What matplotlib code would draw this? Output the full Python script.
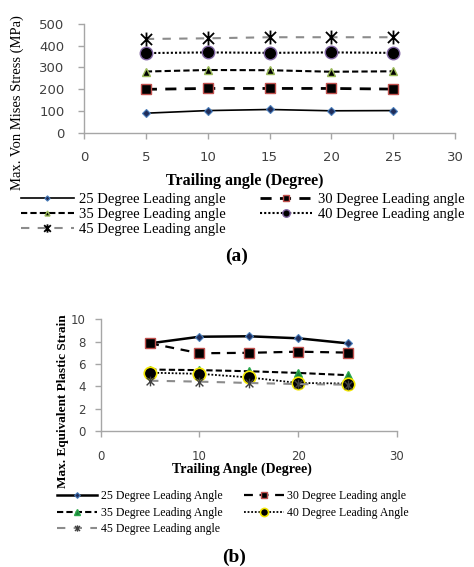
import matplotlib
matplotlib.use("Agg")
import matplotlib.pyplot as plt
from matplotlib.path import Path
import numpy as np

# ---- data ----
trailing = [5, 10, 15, 20, 25]
labels_a = ["25 Degree Leading angle", "30 Degree Leading angle",
            "35 Degree Leading angle", "40 Degree Leading angle",
            "45 Degree Leading angle"]
stress_25 = [89, 101, 106, 100, 101]
stress_30 = [199, 203, 203, 203, 200]
stress_35 = [281, 288, 287, 280, 282]
stress_40 = [366, 369, 367, 369, 367]
stress_45 = [431, 434, 439, 439, 439]

labels_b = ["25 Degree Leading Angle", "30 Degree Leading angle",
            "35 Degree Leading Angle", "40 Degree Leading Angle",
            "45 Degree Leading angle"]
strain_25 = [7.85, 8.44, 8.48, 8.3, 7.85]
strain_30 = [7.85, 6.96, 7.0, 7.1, 7.02]
strain_35 = [5.5, 5.45, 5.35, 5.2, 5.0]
strain_40 = [5.22, 5.12, 4.8, 4.3, 4.25]
strain_45 = [4.5, 4.42, 4.3, 4.2, 4.15]

# asterisk marker (vertical line + X), like the spreadsheet "star"
star = Path([(0, -1), (0, 1), (-0.8, -0.8), (0.8, 0.8), (-0.8, 0.8), (0.8, -0.8)],
            [Path.MOVETO, Path.LINETO, Path.MOVETO, Path.LINETO, Path.MOVETO, Path.LINETO])

W, H = 474, 567
fig = plt.figure(figsize=(W / 100, H / 100), dpi=100)

def ax_rect(l, t, r, b):
    return [l / W, 1 - b / H, (r - l) / W, (b - t) / H]

SPINE = "#a6a6a6"
TICKC = "#404040"

def style(ax, size):
    for s in ["top", "right"]:
        ax.spines[s].set_visible(False)
    for s in ["left", "bottom"]:
        ax.spines[s].set_color(SPINE)
        ax.spines[s].set_linewidth(1.0)
    ax.tick_params(colors=SPINE, labelcolor=TICKC, length=4, width=1.0,
                   direction="out", labelsize=size)
    for lab in ax.get_xticklabels() + ax.get_yticklabels():
        lab.set_family("DejaVu Sans")

# ---------------- (a) ----------------
axa = fig.add_axes(ax_rect(84, 24, 455, 132.5))
la = []
la.append(axa.plot(trailing, stress_25, "-", color="black", lw=1.2, marker="D",
                   ms=4.5, mfc="#1f2d5a", mec="#4a7ebb", mew=0.8)[0])
la.append(axa.plot(trailing, stress_30, color="black", lw=2.0, ls=(0, (4, 3)),
                   marker="s", ms=7, mfc="black", mec="#c0504d", mew=1.0)[0])
la.append(axa.plot(trailing, stress_35, color="black", lw=1.5, ls=(0, (3, 1.5)),
                   marker="^", ms=6, mfc="black", mec="#9bbb59", mew=1.0)[0])
la.append(axa.plot(trailing, stress_40, color="black", lw=1.5, ls=(0, (1, 1)),
                   marker="o", ms=9, mfc="black", mec="#8064a2", mew=1.0)[0])
la.append(axa.plot(trailing, stress_45, color="#8c8c8c", lw=1.5, ls=(0, (4, 4)),
                   marker=star, ms=10, mfc="black", mec="black", mew=1.3)[0])
axa.set_xlim(0, 30)
axa.set_ylim(0, 500)
axa.set_xticks(np.arange(0, 31, 5))
axa.set_yticks(np.arange(0, 501, 100))
axa.tick_params(axis="x", pad=9)
axa.tick_params(axis="y", pad=10)
style(axa, 9.5)

fig.text(17 / W, 1 - 103 / H, "Max. Von Mises Stress (MPa)", rotation=90,
         ha="center", va="center", family="Liberation Serif", fontsize=10.5)
fig.text(245 / W, 1 - 181 / H, "Trailing angle (Degree)", ha="center", va="center",
         family="Liberation Serif", fontweight="bold", fontsize=11.5)

order = [0, 2, 4, 1, 3]
fig.legend([la[i] for i in order], [labels_a[i] for i in order],
           loc="upper left", bbox_to_anchor=(21 / W, 1 - 192.5 / H), ncol=2,
           frameon=False, borderpad=0, borderaxespad=0, handlelength=3.6,
           handletextpad=0.4, columnspacing=2.3, labelspacing=0.14,
           markerscale=0.6,
           prop={"family": "Liberation Serif", "size": 10.5})

fig.text(237 / W, 1 - 256 / H, "(a)", ha="center", va="center",
         family="Liberation Serif", fontweight="bold", fontsize=14)

# ---------------- (b) ----------------
axb = fig.add_axes(ax_rect(100.7, 319.3, 397, 431))
lb = []
lb.append(axb.plot(trailing, strain_25, "-", color="black", lw=1.8, marker="D",
                   ms=4.5, mfc="#1f2d5a", mec="#4a7ebb", mew=0.8)[0])
lb.append(axb.plot(trailing, strain_30, color="black", lw=1.6, ls=(0, (4, 3)),
                   marker="s", ms=7, mfc="black", mec="#c0504d", mew=1.0)[0])
lb.append(axb.plot(trailing, strain_35, color="black", lw=1.5, ls=(0, (3, 1.5)),
                   marker="^", ms=6, mfc="#1a7f3a", mec="#2aa84a", mew=1.0)[0])
lb.append(axb.plot(trailing, strain_40, color="black", lw=1.3, ls=(0, (1, 1)),
                   marker="o", ms=9, mfc="black", mec="#f2e600", mew=1.2)[0])
lb.append(axb.plot(trailing, strain_45, color="#8c8c8c", lw=1.5, ls=(0, (4, 4)),
                   marker=star, ms=7, mfc="#404040", mec="#404040", mew=1.0)[0])
axb.set_xlim(0, 30)
axb.set_ylim(0, 10)
axb.set_xticks(np.arange(0, 31, 10))
axb.set_yticks(np.arange(0, 11, 2))
axb.tick_params(axis="x", pad=10)
axb.tick_params(axis="y", pad=7)
style(axb, 8.5)

fig.text(63 / W, 1 - 401 / H, "Max. Equivalent Plastic Strain", rotation=90,
         ha="center", va="center", family="Liberation Serif", fontweight="bold",
         fontsize=9.5)
fig.text(242 / W, 1 - 469 / H, "Trailing Angle (Degree)", ha="center", va="center",
         family="Liberation Serif", fontweight="bold", fontsize=10)

fig.legend([lb[i] for i in order], [labels_b[i] for i in order],
           loc="upper left", bbox_to_anchor=(57 / W, 1 - 490 / H), ncol=2,
           frameon=False, borderpad=0, borderaxespad=0, handlelength=3.4,
           handletextpad=0.3, columnspacing=1.8, labelspacing=0.4,
           markerscale=0.65,
           prop={"family": "Liberation Serif", "size": 8.5})

fig.text(234 / W, 1 - 557 / H, "(b)", ha="center", va="center",
         family="Liberation Serif", fontweight="bold", fontsize=14)

fig.savefig("out.png", dpi=100)
